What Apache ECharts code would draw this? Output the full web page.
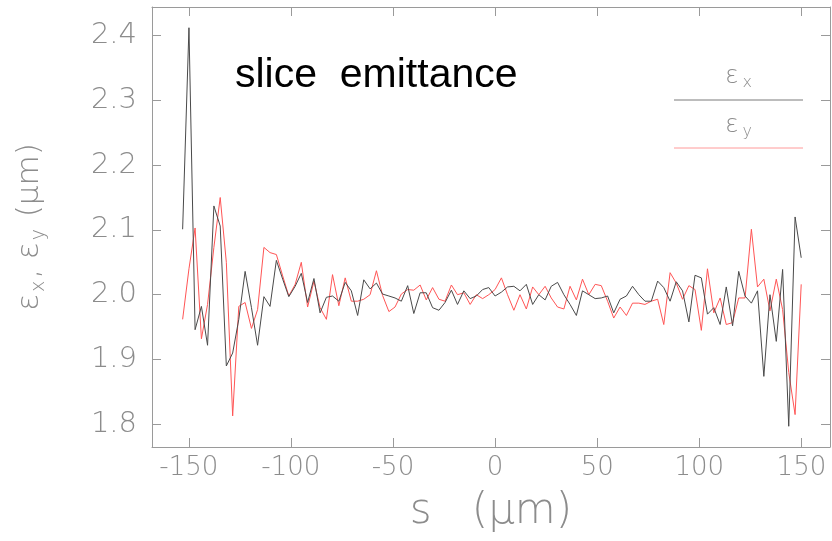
<!DOCTYPE html>
<html><head><meta charset="utf-8">
<script src="https://cdn.jsdelivr.net/npm/echarts@6/dist/echarts.min.js"></script>
<style>html,body{margin:0;padding:0;background:#fff}#c{width:832px;height:541px}</style>
</head><body><div id="c"></div>
<script>
// slice position s (um)
const sValues = [
 -153.0,-149.9,-146.9,-143.8,-140.8,-137.7,-134.6,-131.6,-128.5,-125.5,
 -122.4,-119.3,-116.3,-113.2,-110.2,-107.1,-104.0,-101.0,-97.9,-94.9,
 -91.8,-88.7,-85.7,-82.6,-79.6,-76.5,-73.4,-70.4,-67.3,-64.3,
 -61.2,-58.1,-55.1,-52.0,-49.0,-45.9,-42.8,-39.8,-36.7,-33.7,
 -30.6,-27.5,-24.5,-21.4,-18.4,-15.3,-12.2,-9.2,-6.1,-3.1,
 0.0,3.1,6.1,9.2,12.2,15.3,18.4,21.4,24.5,27.5,
 30.6,33.7,36.7,39.8,42.8,45.9,49.0,52.0,55.1,58.1,
 61.2,64.3,67.3,70.4,73.4,76.5,79.6,82.6,85.7,88.7,
 91.8,94.9,97.9,101.0,104.0,107.1,110.2,113.2,116.3,119.3,
 122.4,125.5,128.5,131.6,134.6,137.7,140.8,143.8,146.9,149.9
];
// epsilon_x (um)
const epsX = [
 2.101,2.412,1.946,1.982,1.922,2.137,2.106,1.890,1.910,1.962,
 2.036,1.980,1.922,1.997,1.982,2.053,2.024,1.997,2.013,2.033,
 1.988,2.025,1.972,1.996,1.998,1.990,2.019,2.006,1.968,2.023,
 2.009,2.018,2.001,1.998,1.995,1.990,2.014,1.971,2.003,2.003,
 1.980,1.976,1.988,2.007,1.985,2.006,1.994,1.998,2.008,2.011,
 1.998,2.004,2.012,2.013,2.006,2.016,1.985,2.000,1.992,2.013,
 2.019,2.000,1.985,1.968,2.006,2.000,1.994,1.995,1.998,1.972,
 1.993,1.998,2.013,2.000,1.990,1.990,2.021,2.011,1.990,2.020,
 2.006,1.958,2.030,2.026,1.970,1.980,1.954,2.012,1.952,2.036,
 1.998,1.987,2.006,1.874,2.000,1.928,2.039,1.797,2.120,2.057
];
// epsilon_y (um)
const epsY = [
 1.962,2.040,2.103,1.932,1.985,2.073,2.150,2.050,1.813,1.982,
 1.988,1.948,1.977,2.073,2.065,2.062,2.029,1.998,2.016,2.050,
 1.981,2.021,1.980,1.962,2.031,1.983,2.026,1.990,1.990,1.993,
 2.000,2.037,1.999,1.974,1.981,2.001,2.008,2.007,2.015,1.992,
 2.011,1.993,1.990,2.015,2.000,2.003,1.985,2.000,1.994,2.000,
 2.008,2.026,2.000,1.976,2.000,1.978,2.012,2.000,2.013,1.995,
 1.981,1.978,2.013,1.992,2.024,2.000,2.016,2.014,1.990,1.964,
 1.981,1.968,1.987,1.987,1.985,1.990,1.993,1.954,2.034,2.018,
 1.993,2.014,2.008,1.945,2.040,1.972,1.995,1.954,1.957,1.995,
 1.995,2.101,2.012,2.024,1.975,2.024,1.977,1.880,1.815,2.016
];
const xTicks = [-150,-100,-50,0,50,100,150];
const yTicks = [1.8,1.9,2.0,2.1,2.2,2.3,2.4];

const frame = '#9a9a9a';
const labelColor = '#8c8c8c';
const lightFont = 'DejaVu Sans';

const pairs = (xs, ys) => xs.map((x, i) => [x, ys[i]]);

function axisBase(extra) {
  return Object.assign({
    type: 'value',
    axisLine: { show: true, onZero: false, lineStyle: { color: frame, width: 1 } },
    splitLine: { show: false },
  }, extra);
}

const chart = echarts.init(document.getElementById('c'), null, { renderer: 'canvas' });
chart.setOption({
  animation: false,
  backgroundColor: '#fff',
  title: {
    text: 'slice  emittance',
    left: 230, top: 50,
    textStyle: { fontFamily: 'Liberation Sans', fontSize: 41, fontWeight: 'normal', color: '#000' }
  },
  grid: { left: 152, top: 7, width: 678, height: 440, containLabel: false },
  xAxis: [
    axisBase({
      position: 'bottom', min: -168, max: 164,
      axisTick: { show: true, inside: true, length: 9, customValues: xTicks, lineStyle: { color: frame } },
      axisLabel: { customValues: xTicks, margin: 8, color: labelColor, fontSize: 26, fontFamily: lightFont, fontWeight: 200,
        formatter: v => String(v) },
      name: 's   (μm)', nameLocation: 'middle', nameGap: 44,
      nameTextStyle: { color: labelColor, fontFamily: lightFont, fontWeight: 200, fontSize: 42 }
    }),
    axisBase({
      position: 'top', min: -168, max: 164,
      axisTick: { show: true, inside: true, length: 9, customValues: xTicks, lineStyle: { color: frame } },
      axisLabel: { show: false }
    })
  ],
  yAxis: [
    axisBase({
      position: 'left', min: 1.765, max: 2.444,
      axisTick: { show: true, inside: true, length: 9, customValues: yTicks, lineStyle: { color: frame } },
      axisLabel: { customValues: yTicks, margin: 15, color: labelColor, fontSize: 29, fontFamily: lightFont, fontWeight: 200,
        formatter: v => v.toFixed(1) },
      name: '{e|ε}{s|x}{e|, }{e|ε}{s|y}{e| (μm)}', nameLocation: 'middle', nameGap: 103, nameRotate: 90,
      nameTextStyle: {
        color: labelColor,
        rich: {
          e: { fontSize: 31, lineHeight: 38, color: labelColor, fontFamily: lightFont, fontWeight: 200, verticalAlign: 'middle' },
          s: { fontSize: 19, lineHeight: 22, color: labelColor, fontFamily: lightFont, fontWeight: 200, verticalAlign: 'bottom', padding: [0, 2, 0, 2] }
        }
      }
    }),
    axisBase({
      position: 'right', min: 1.765, max: 2.444,
      axisTick: { show: true, inside: true, length: 9, customValues: yTicks, lineStyle: { color: frame } },
      axisLabel: { show: false }
    })
  ],
  graphic: [
    { type: 'text', left: 725, top: 64,
      style: { text: '{e|ε}{s|x}', rich: {
        e: { fontSize: 25, lineHeight: 28, fill: labelColor, fontFamily: lightFont, fontWeight: 200, verticalAlign: 'middle' },
        s: { fontSize: 16, lineHeight: 16, fill: labelColor, fontFamily: lightFont, fontWeight: 200, verticalAlign: 'bottom', padding: [0,0,0,4] } } } },
    { type: 'line', shape: { x1: 674, y1: 100, x2: 803, y2: 100 }, style: { stroke: '#7a7a7a', lineWidth: 1 } },
    { type: 'text', left: 725, top: 113,
      style: { text: '{e|ε}{s|y}', rich: {
        e: { fontSize: 25, lineHeight: 28, fill: labelColor, fontFamily: lightFont, fontWeight: 200, verticalAlign: 'middle' },
        s: { fontSize: 16, lineHeight: 16, fill: labelColor, fontFamily: lightFont, fontWeight: 200, verticalAlign: 'bottom', padding: [0,0,0,4] } } } },
    { type: 'line', shape: { x1: 674, y1: 148, x2: 803, y2: 148 }, style: { stroke: '#ff9a9a', lineWidth: 1 } }
  ],
  series: [
    { name: 'εx', type: 'line', data: pairs(sValues, epsX), showSymbol: false, symbol: 'none',
      lineStyle: { color: '#4a4a4a', width: 1 }, itemStyle: { color: '#4a4a4a' }, z: 3 },
    { name: 'εy', type: 'line', data: pairs(sValues, epsY), showSymbol: false, symbol: 'none',
      lineStyle: { color: '#ff5555', width: 1 }, itemStyle: { color: '#ff5555' }, z: 2 }
  ]
});
</script>
</body></html>
